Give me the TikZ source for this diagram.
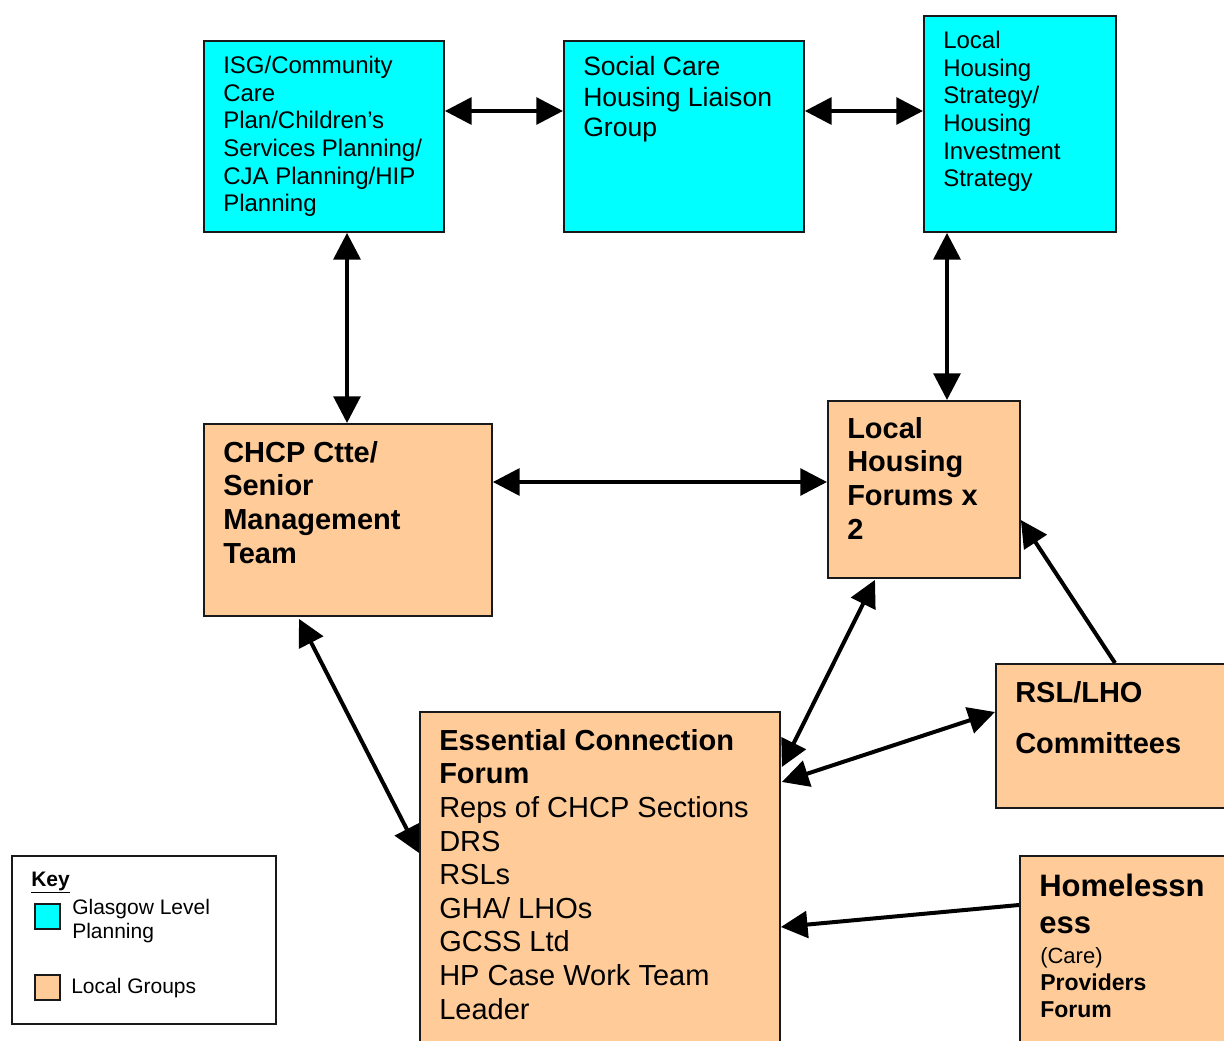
\documentclass[tikz,border=0pt]{standalone}
\usepackage{fontspec}
\setmainfont{Liberation Sans}
\usetikzlibrary{arrows.meta, calc}

\definecolor{glasgow}{HTML}{00FFFF}
\definecolor{localgrp}{HTML}{FFCC99}
\newdimen\pxu
\pxu=0.75pt

\begin{document}
\begin{tikzpicture}[x=\pxu, y=-\pxu,
    box/.style={draw=black!90, line width=1.4pt, rectangle, inner sep=0pt, anchor=north west},
    citybox/.style={box, fill=glasgow},
    localbox/.style={box, fill=localgrp},
    txt/.style={inner sep=0pt, anchor=north west, align=left},
    >={Triangle[length=20pt, width=20pt]},
    link/.style={line width=3pt}]

    \useasboundingbox (0,0) rectangle (1224,1041);
    \clip (0,0) rectangle (1224,1041);

    % Glasgow level planning
    \node[citybox, minimum width=240\pxu, minimum height=191\pxu] (ISG) at (203, 40) { };
    \node[citybox, minimum width=240\pxu, minimum height=191\pxu] (SCH) at (563, 40) { };
    \node[citybox, minimum width=192\pxu, minimum height=216\pxu] (LHS) at (923, 15) { };

    % local groups
    \node[localbox, minimum width=288\pxu, minimum height=192\pxu] (CHCP) at (203, 423) { };
    \node[localbox, minimum width=192\pxu, minimum height=177\pxu] (LHF) at (827, 400) { };
    \node[localbox, minimum width=260\pxu, minimum height=144\pxu] (RSL) at (995, 663) { };
    \node[localbox, minimum width=360\pxu, minimum height=360\pxu] (ECF) at (419, 711) { };
    \node[localbox, minimum width=230\pxu, minimum height=210\pxu] (HPF) at (1019, 855) { };

    \node[txt, font=\fontsize{18pt}{20.7pt}\selectfont] (ISGt) at (223, 56)
        {ISG/Community\\Care\\Plan/Children’s\\Services Planning/\\CJA Planning/HIP\\Planning};
    \node[txt, font=\fontsize{19.9pt}{22.9pt}\selectfont] (SCHt) at (583, 56)
        {Social Care\\Housing Liaison\\Group};
    \node[txt, font=\fontsize{18pt}{20.7pt}\selectfont] (LHSt) at (943, 31)
        {Local\\Housing\\Strategy/\\Housing\\Investment\\Strategy};
    \node[txt, font=\bfseries\fontsize{21.75pt}{25.2pt}\selectfont] (CHCPt) at (223, 441)
        {CHCP Ctte/\\Senior\\Management\\Team};
    \node[txt, font=\bfseries\fontsize{21.75pt}{25.2pt}\selectfont] (LHFt) at (847, 417)
        {Local\\Housing\\Forums x\\2};
    \node[txt, font=\bfseries\fontsize{21.75pt}{38.25pt}\selectfont] (RSLt) at (1015, 681)
        {RSL/LHO\\Committees};
    \node[txt, font=\fontsize{21.75pt}{25.2pt}\selectfont] (ECFt) at (439, 729)
        {\textbf{Essential Connection}\\\textbf{Forum}\\Reps of CHCP Sections\\DRS\\RSLs\\GHA/ LHOs\\GCSS Ltd\\HP Case Work Team\\Leader};
    \node[txt, anchor=base west, font=\bfseries\fontsize{23.25pt}{27.75pt}\selectfont] (HPFa) at (1039, 896)
        {Homelessn};
    \node[txt, anchor=base west, font=\bfseries\fontsize{23.25pt}{27.75pt}\selectfont] (HPFb) at (1039, 933)
        {ess};
    \node[txt, anchor=base west, font=\fontsize{16.5pt}{20pt}\selectfont] (HPFc) at (1040, 963)
        {(Care)};
    \node[txt, anchor=base west, font=\bfseries\fontsize{17.25pt}{21pt}\selectfont] (HPFd) at (1040, 990)
        {Providers};
    \node[txt, anchor=base west, font=\bfseries\fontsize{17.25pt}{21pt}\selectfont] (HPFe) at (1040, 1017)
        {Forum};

    % key
    \node[box, fill=white, minimum width=264\pxu, minimum height=168\pxu] (Key) at (11, 855) { };
    \node[txt, anchor=base west, font=\bfseries\fontsize{15.75pt}{18pt}\selectfont] (KeyT) at (31, 886)
        {\underline{Key}};
    \node[citybox, minimum width=25\pxu, minimum height=25\pxu] (KeyC) at (34, 903) { };
    \node[localbox, minimum width=25\pxu, minimum height=25\pxu] (KeyL) at (34, 974) { };
    \node[txt, font=\fontsize{15.75pt}{18pt}\selectfont] (KeyCt) at (72, 899)
        {Glasgow Level\\Planning};
    \node[txt, font=\fontsize{15.75pt}{18pt}\selectfont] (KeyLt) at (71, 978)
        {Local Groups};

    % connectors
    \draw[link, <->] ($(ISG.north east)+(0,71)$) -- ($(SCH.north west)+(0,71)$);
    \draw[link, <->] ($(SCH.north east)+(0,71)$) -- ($(LHS.north west)+(0,96)$);
    \draw[link, <->] ($(ISG.south west)+(144,0)$) -- ($(CHCP.north west)+(144,0)$);
    \draw[link, <->] ($(LHS.south west)+(24,0)$) -- ($(LHF.north west)+(120,0)$);
    \draw[link, <->] ($(CHCP.north east)+(0,59)$) -- ($(LHF.north west)+(0,82)$);
    \draw[link, <->] ($(CHCP.south west)+(96,2)$) -- ($(ECF.north west)+(0,142)$);
    \draw[link, <->] ($(LHF.south west)+(48,1)$) -- ($(ECF.north east)+(1,56)$);
    \draw[link, <->] ($(RSL.north west)+(0,49)$) -- ($(ECF.north east)+(1,71)$);
    \draw[link, ->] ($(RSL.north west)+(120,0)$) -- ($(LHF.north east)+(0,120)$);
    \draw[link, ->] ($(HPF.north west)+(0,50)$) -- ($(ECF.north east)+(0,216)$);

\end{tikzpicture}
\end{document}
